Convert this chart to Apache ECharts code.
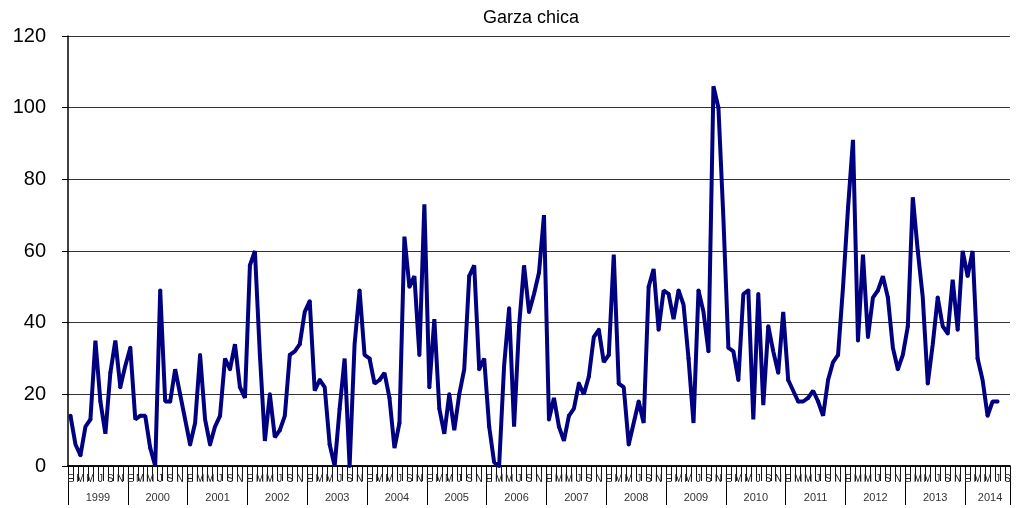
<!DOCTYPE html>
<html>
<head>
<meta charset="utf-8">
<title>Garza chica</title>
<script src="https://cdn.jsdelivr.net/npm/echarts@6/dist/echarts.min.js"></script>
<style>
  html, body { margin: 0; padding: 0; background: #fff; }
  #chart { width: 1018px; height: 508px; }
</style>
</head>
<body>
<div id="chart"></div>
<script>
const chartTitle = 'Garza chica'
const years = [1999, 2000, 2001, 2002, 2003, 2004, 2005, 2006, 2007, 2008, 2009, 2010, 2011, 2012, 2013, 2014]
const monthLetters = ['E', 'F', 'M', 'A', 'M', 'J', 'J', 'A', 'S', 'O', 'N', 'D']
// the axis of the original runs to September 2014
const monthsLastYear = 9
const yTicks = [0, 20, 40, 60, 80, 100, 120]

// monthly counts, one array per year
const v1999 = [14, 6, 3, 11, 13, 35, 18, 9, 26, 35, 22, 28]
const v2000 = [33, 13, 14, 14, 5, 0, 49, 18, 18, 27, 20, 13]
const v2001 = [6, 12, 31, 13, 6, 11, 14, 30, 27, 34, 22, 19]
const v2002 = [56, 60, 31, 7, 20, 8, 10, 14, 31, 32, 34, 43]
const v2003 = [46, 21, 24, 22, 6, 0, 16, 30, 0, 34, 49, 31]
const v2004 = [30, 23, 24, 26, 19, 5, 12, 64, 50, 53, 31, 73]
const v2005 = [22, 41, 16, 9, 20, 10, 20, 27, 53, 56, 27, 30]
const v2006 = [11, 1, 0, 28, 44, 11, 39, 56, 43, 48, 54, 70]
const v2007 = [13, 19, 11, 7, 14, 16, 23, 20, 25, 36, 38, 29]
const v2008 = [31, 59, 23, 22, 6, 12, 18, 12, 50, 55, 38, 49]
const v2009 = [48, 41, 49, 45, 30, 12, 49, 43, 32, 106, 100, 69]
const v2010 = [33, 32, 24, 48, 49, 13, 48, 17, 39, 32, 26, 43]
const v2011 = [24, 21, 18, 18, 19, 21, 18, 14, 24, 29, 31, 50]
const v2012 = [72, 91, 35, 59, 36, 47, 49, 53, 47, 33, 27, 31]
const v2013 = [39, 75, 60, 47, 23, 34, 47, 39, 37, 52, 38, 60]
const v2014 = [53, 60, 30, 24, 14, 18, 18]

const values = [].concat(v1999, v2000, v2001, v2002, v2003, v2004, v2005, v2006,
  v2007, v2008, v2009, v2010, v2011, v2012, v2013, v2014)

// month letters for the first axis row, year names for the second
const monthCats = []
const yearCats = []
years.forEach((y, k) => {
  const n = k === years.length - 1 ? monthsLastYear : 12
  const mid = n === 12 ? 6 : 5
  for (let m = 0; m < n; m++) {
    monthCats.push(monthLetters[m])
    yearCats.push(m === mid ? String(y) : '')
  }
})

const font = 'Liberation Sans, Arial, sans-serif'
const chart = echarts.init(document.getElementById('chart'))

chart.setOption({
  animation: false,
  backgroundColor: '#fff',
  title: {
    text: chartTitle,
    left: 478,
    top: 4,
    textStyle: { fontFamily: font, fontSize: 18, fontWeight: 'normal', color: '#000' }
  },
  grid: { left: 68, right: 8, top: 36, bottom: 42 },
  xAxis: [
    {
      // year dividers and year names
      type: 'category',
      data: yearCats,
      position: 'bottom',
      boundaryGap: true,
      axisLine: { show: true, lineStyle: { color: '#000', width: 1.5 } },
      axisTick: {
        show: true,
        interval: (i) => i % 12 === 0,
        length: 39,
        lineStyle: { color: '#000', width: 1 }
      },
      axisLabel: {
        show: true,
        interval: (i, v) => v !== '',
        margin: 26,
        padding: [0, 5, 0, 0],
        fontFamily: font,
        fontSize: 11,
        color: '#333'
      },
      splitLine: { show: false }
    },
    {
      // month letters, with a tick on every month boundary
      type: 'category',
      data: monthCats,
      position: 'bottom',
      boundaryGap: true,
      axisLine: { show: true, lineStyle: { color: '#000', width: 1.5 } },
      axisTick: {
        show: true,
        interval: (i) => i % 12 !== 0,
        length: 15,
        lineStyle: { color: '#111', width: 1 }
      },
      axisLabel: {
        show: true,
        interval: (i) => i % 2 === 0,
        margin: 8,
        fontFamily: font,
        fontSize: 10,
        color: '#222'
      },
      splitLine: { show: false }
    }
  ],
  yAxis: {
    type: 'value',
    min: yTicks[0],
    max: yTicks[yTicks.length - 1],
    interval: yTicks[1] - yTicks[0],
    axisLine: { show: true, lineStyle: { color: '#000', width: 1.5 } },
    axisTick: { show: true, length: 6, lineStyle: { color: '#000' } },
    axisLabel: { margin: 22, fontFamily: font, fontSize: 20, color: '#000' },
    splitLine: { lineStyle: { color: '#333', width: 1 } }
  },
  series: [
    {
      type: 'line',
      xAxisIndex: 1,
      data: values,
      symbol: 'circle',
      symbolSize: 4,
      lineStyle: { width: 4, color: '#000080' },
      itemStyle: { color: '#000080' }
    }
  ]
})
</script>
</body>
</html>
